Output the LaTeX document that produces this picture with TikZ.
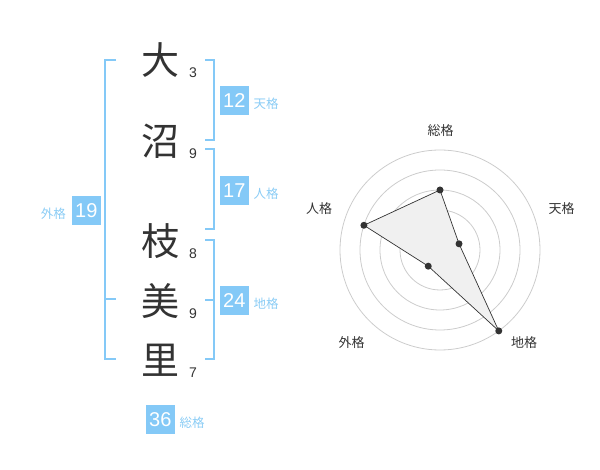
\documentclass[tikz,border=0pt]{standalone}
\usepackage{fontspec}
\setmainfont{Liberation Sans}
\newfontfamily\cjk{Noto Sans CJK JP}
\definecolor{bluebox}{HTML}{84C9F7}
\definecolor{bluetext}{HTML}{8ACCF5}
\definecolor{ink}{HTML}{333333}
\definecolor{ring}{HTML}{CCCCCC}
\begin{document}
\begin{tikzpicture}[x=1pt,y=-1pt,
  kanji/.style={inner sep=0pt,text=ink,font=\cjk\fontsize{38}{38}\selectfont},
  stroke/.style={inner sep=0pt,text=ink,font=\fontsize{14}{14}\selectfont},
  numbox/.style={fill=bluebox,text=white,minimum width=28.7pt,minimum height=28.7pt,inner sep=0pt,font=\fontsize{20}{20}\selectfont},
  kaku/.style={inner sep=0pt,text=bluetext,font=\cjk\fontsize{12.5}{12.5}\selectfont},
  bracket/.style={draw=bluebox,line width=2pt},
  ringline/.style={draw=ring,line width=0.8pt},
  rlabel/.style={inner sep=0pt,text=ink,font=\cjk\fontsize{13}{13}\selectfont},
  dot/.style={circle,fill=ink,inner sep=0pt,minimum size=7pt}]
\useasboundingbox (0,0) rectangle (600,470);
% characters
\node[kanji] (c1) at (160,60) {大};
\node[kanji] (c2) at (160,141) {沼};
\node[kanji] (c3) at (160,241) {枝};
\node[kanji] (c4) at (160,301) {美};
\node[kanji] (c5) at (160,360) {里};
\node[stroke] (s1) at (193,72.7) {3};
\node[stroke] (s2) at (193,153.3) {9};
\node[stroke] (s3) at (193,253.3) {8};
\node[stroke] (s4) at (193,313.3) {9};
\node[stroke] (s5) at (193,372.7) {7};
% brackets
\draw[bracket] (116,60) -- (105,60) -- (105,359.5) -- (116,359.5);
\draw[bracket] (105,299.5) -- (116,299.5);
\draw[bracket] (205,60) -- (214,60) -- (214,140) -- (205,140);
\draw[bracket] (205,149.5) -- (214,149.5) -- (214,229.5) -- (205,229.5);
\draw[bracket] (205,240) -- (214,240) -- (214,359.5) -- (205,359.5);
\draw[bracket] (205,300) -- (214,300);
% boxes
\node[numbox] (b19) at (86.3,210.3) {19};
\node[kaku] (l19) at (53.3,213.3) {外格};
\node[numbox] (b12) at (234.3,100.3) {12};
\node[kaku] (l12) at (266,104) {天格};
\node[numbox] (b17) at (234.3,190.3) {17};
\node[kaku] (l17) at (266,194) {人格};
\node[numbox] (b24) at (234.3,300.3) {24};
\node[kaku] (l24) at (266,304) {地格};
\node[numbox] (b36) at (160.3,419.3) {36};
\node[kaku] (l36) at (192,423) {総格};
% radar
\begin{scope}[shift={(440,250)}]
\foreach \r in {20,40,60,80,100} \draw[ringline] (0,0) circle[radius=\r];
\node[circle,fill=ring,inner sep=0pt,minimum size=7pt] (ctr) at (0,0) {};
\coordinate (pS) at (-90:60);
\coordinate (pT) at (-18:20);
\coordinate (pC) at (54:100);
\coordinate (pG) at (126:20);
\coordinate (pJ) at (-162:80);
\draw[fill=black!6,draw=ink,line width=0.7pt] (pS) -- (pT) -- (pC) -- (pG) -- (pJ) -- cycle;
\foreach \p in {pS,pT,pC,pG,pJ} \node[dot] at (\p) {};
\end{scope}
\node[rlabel] (rS) at (440.7,130.7) {総格};
\node[rlabel] (rT) at (561.7,208.7) {天格};
\node[rlabel] (rJ) at (319,208.7) {人格};
\node[rlabel] (rG) at (351.7,342.3) {外格};
\node[rlabel] (rC) at (524,342.3) {地格};
\end{tikzpicture}
\end{document}
